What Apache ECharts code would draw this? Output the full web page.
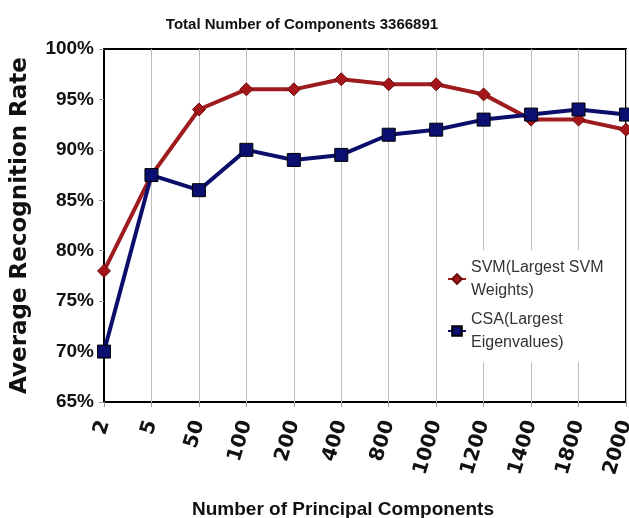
<!DOCTYPE html>
<html><head><meta charset="utf-8">
<script src="https://cdn.jsdelivr.net/npm/echarts@6/dist/echarts.min.js"></script>
<style>html,body{margin:0;padding:0;background:#fff}#c{width:629px;height:518px}</style>
</head><body><div id="c"></div>
<script>
const categories = ['2','5','50','100','200','400','800','1000','1200','1400','1800','2000'];
const svmValues = [78, 87.5, 94, 96, 96, 97, 96.5, 96.5, 95.5, 93, 93, 92];
const csaValues = [70, 87.5, 86, 90, 89, 89.5, 91.5, 92, 93, 93.5, 94, 93.5];
const seriesNames = ['SVM(Largest SVM\nWeights)', 'CSA(Largest\nEigenvalues)'];
const chart = echarts.init(document.getElementById('c'));
chart.setOption({
  animation: false,
  title: {
    text: 'Total Number of Components 3366891',
    left: 297, top: 12, textAlign: 'center',
    textStyle: {fontFamily: '"Liberation Sans", Arial', fontWeight: 'bold', fontSize: 15, color: '#111'}
  },
  grid: {left: 104, right: 3, top: 49, bottom: 116, show: true, borderColor: '#000', borderWidth: 2,
         backgroundColor: 'transparent', outerBoundsMode: 'none', containLabel: false},
  legend: {
    orient: 'vertical', left: 438, top: 250, padding: [6, 10, 8, 9],
    backgroundColor: '#fff', itemGap: 6, itemWidth: 18, itemHeight: 12,
    textStyle: {fontFamily: '"Liberation Sans", Arial', fontSize: 16, color: '#333', lineHeight: 23},
    data: seriesNames
  },
  xAxis: {
    type: 'category', data: categories, boundaryGap: false,
    name: 'Number of Principal Components', nameLocation: 'middle', nameGap: 98,
    nameTextStyle: {fontFamily: '"Liberation Sans", Arial', fontWeight: 'bold', fontSize: 19, color: '#111', padding: [0, 44, 0, 0]},
    axisLine: {lineStyle: {color: '#000', width: 1}},
    axisTick: {show: true, alignWithLabel: true, length: 5, lineStyle: {color: '#999'}},
    axisLabel: {rotate: 73, margin: 19, fontFamily: '"DejaVu Sans", "Liberation Sans", Arial', fontWeight: 'bold', fontSize: 20, color: '#111'},
    splitLine: {show: true, lineStyle: {color: '#bdbdbd', width: 1}}
  },
  yAxis: {
    type: 'value', min: 65, max: 100, interval: 5,
    name: 'Average Recognition Rate', nameLocation: 'middle', nameGap: 72,
    nameTextStyle: {fontFamily: '"DejaVu Sans", "Liberation Sans", Arial', fontWeight: 'bold', fontSize: 23, color: '#111'},
    axisLine: {show: true, lineStyle: {color: '#000', width: 1}},
    axisTick: {show: true, length: 5, lineStyle: {color: '#999'}},
    axisLabel: {formatter: v => v + '%', margin: 10, fontFamily: '"Liberation Sans", Arial', fontWeight: 'bold', fontSize: 19, color: '#111'},
    splitLine: {show: false}
  },
  series: [
    {name: seriesNames[0], type: 'line', data: svmValues, symbol: 'diamond', symbolSize: 13,
     lineStyle: {color: '#9e1b1e', width: 4},
     itemStyle: {color: '#a5161b', borderColor: '#6b0a0c', borderWidth: 1}, z: 3},
    {name: seriesNames[1], type: 'line', data: csaValues, symbol: 'rect', symbolSize: 13,
     lineStyle: {color: '#0b0f6b', width: 4},
     itemStyle: {color: '#0a0f70', borderColor: '#000', borderWidth: 1}, z: 4}
  ]
});
</script></body></html>
